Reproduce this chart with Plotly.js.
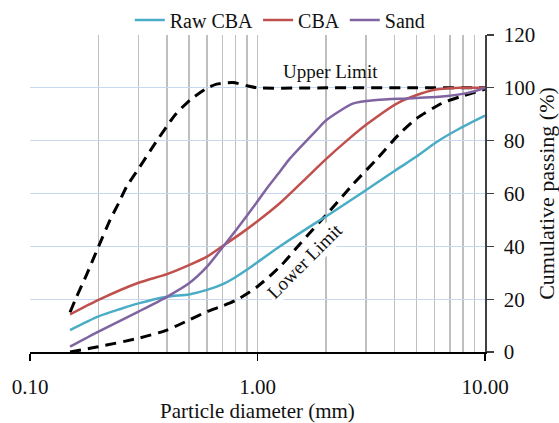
<!DOCTYPE html>
<html><head><meta charset="utf-8">
<script src="https://cdn.plot.ly/plotly-3.0.1.min.js"></script>
<style>html,body{margin:0;padding:0;background:#fff}#chart{width:559px;height:423px}</style>
</head><body><div id="chart"></div>
<script>
// Particle diameter (mm) and cumulative passing (%)
const rawCbaSize = [0.15, 0.2, 0.25, 0.3, 0.4, 0.5, 0.6, 0.7, 0.8, 0.9, 1.0, 1.256, 1.76, 2.0, 2.85, 4.0, 5.0, 6.13, 7.77, 10];
const rawCbaPass = [8.3, 13.5, 16.3, 18.4, 20.9, 21.8, 23.5, 25.6, 28.3, 31.2, 34, 40, 48.3, 51.3, 60, 68.5, 74, 79.5, 84.7, 89.5];

const cbaSize = [0.15, 0.2, 0.3, 0.4, 0.5, 0.6, 0.7, 0.85, 1.0, 1.26, 1.6, 2.0, 2.47, 3.0, 4.23, 5.93, 7.8, 10];
const cbaPass = [14.2, 19.7, 26.2, 29.5, 32.9, 36.1, 40, 45, 49.5, 56.5, 65, 73, 80, 86, 94.7, 99.2, 100, 100];

const sandSize = [0.15, 0.2, 0.3, 0.4, 0.5, 0.6, 0.7, 0.81, 0.99, 1.1, 1.26, 1.39, 1.82, 2.01, 2.64, 3.34, 4.52, 6.3, 8.3, 10];
const sandPass = [2, 7.7, 15.3, 20.9, 26, 32.3, 39.5, 46.5, 56.5, 62, 68.5, 73.3, 84, 87.8, 94.1, 95.4, 96, 96.6, 98, 100];

const upperSize = [0.15, 0.158, 0.177, 0.2, 0.225, 0.245, 0.266, 0.304, 0.343, 0.434, 0.505, 0.598, 0.661, 0.78, 0.9, 1.0, 2, 5, 10];
const upperPass = [15, 19.7, 29.1, 39.9, 50, 56.3, 62.6, 70.1, 77.1, 89.7, 95.4, 99.8, 101.4, 102, 100.8, 100, 100, 100, 100];

const lowerSize = [0.15, 0.2, 0.3, 0.4, 0.5, 0.6, 0.7, 0.81, 0.99, 1.256, 1.54, 2.08, 2.63, 3.3, 4.23, 5.0, 6.45, 7.77, 10];
const lowerPass = [0, 2, 5.2, 8.3, 12.1, 15.3, 17.4, 19.7, 24.5, 32.3, 41, 53.5, 63.5, 72.5, 82.8, 88.4, 94.1, 96.6, 99.5];

const seriesNames = ['Raw CBA', 'CBA', 'Sand'];
const xTickVals = [0.1, 1, 10];
const xTickText = ['0.10', '1.00', '10.00'];
const xMinorVals = [0.2,0.3,0.4,0.5,0.6,0.7,0.8,0.9,2,3,4,5,6,7,8,9];
const limitLabels = ['Upper Limit', 'Lower Limit'];

const FONT = 'Liberation Serif, Times New Roman, serif';

const traces = [
  {x: upperSize, y: upperPass, mode: 'lines', showlegend: false, hoverinfo: 'skip',
   line: {color: '#000', width: 3, dash: '11px,7px', shape: 'spline', smoothing: 0.6}},
  {x: lowerSize, y: lowerPass, mode: 'lines', showlegend: false, hoverinfo: 'skip',
   line: {color: '#000', width: 3, dash: '11px,7px', shape: 'spline', smoothing: 0.6}},
  {x: rawCbaSize, y: rawCbaPass, name: seriesNames[0], mode: 'lines',
   line: {color: '#4BACC6', width: 2.5, shape: 'spline', smoothing: 0.7}},
  {x: cbaSize, y: cbaPass, name: seriesNames[1], mode: 'lines',
   line: {color: '#C0504D', width: 2.5, shape: 'spline', smoothing: 0.7}},
  {x: sandSize, y: sandPass, name: seriesNames[2], mode: 'lines',
   line: {color: '#8064A2', width: 2.5, shape: 'spline', smoothing: 0.7}}
];

const layout = {
  width: 559, height: 423,
  margin: {l: 30, r: 74, t: 35, b: 71, autoexpand: false},
  paper_bgcolor: '#fff', plot_bgcolor: '#fff',
  font: {family: FONT, size: 21, color: '#111'},
  showlegend: true,
  legend: {orientation: 'h', x: 0.55, xanchor: 'center', y: 1.047, yanchor: 'middle',
           font: {family: FONT, size: 20, color: '#111'}, bgcolor: 'rgba(0,0,0,0)',
           itemwidth: 30, tracegroupgap: 0},
  xaxis: {
    type: 'log', range: [-1, 1], autorange: false,
    tickmode: 'array', tickvals: xTickVals, ticktext: xTickText,
    ticks: 'outside', ticklen: 7, tickcolor: '#000', tickwidth: 1.3,
    showline: true, linecolor: '#000', linewidth: 1.5,
    showgrid: true, gridcolor: '#bfbfbf', gridwidth: 1.5,
    minor: {tickmode: 'array', tickvals: xMinorVals, showgrid: true, gridcolor: '#bfbfbf', gridwidth: 1.5, ticks: ''},
    zeroline: false,
    ticklabelstandoff: 8,
    title: {text: 'Particle diameter (mm)', font: {family: FONT, size: 21}, standoff: 4},
    tickfont: {family: FONT, size: 21}
  },
  yaxis: {
    side: 'right', range: [0, 120], autorange: false, dtick: 20, tick0: 0,
    ticks: 'outside', ticklen: 7, tickcolor: '#404040', tickwidth: 1.3,
    showline: true, linecolor: '#404040', linewidth: 1.5,
    showgrid: true, gridcolor: '#c6d9f1', gridwidth: 1.3,
    zeroline: false,
    ticklabelstandoff: 6,
    title: {text: 'Cumulative passing (%)', font: {family: FONT, size: 22}, standoff: 4},
    tickfont: {family: FONT, size: 21}
  },
  annotations: [
    {xref: 'x', yref: 'y', x: 0.3187, y: 106, text: limitLabels[0], showarrow: false,
     font: {family: FONT, size: 19, color: '#111'}},
    {xref: 'x', yref: 'y', x: 0.2044, y: 34.4, text: limitLabels[1], showarrow: false, textangle: -45,
     bgcolor: '#fff', font: {family: FONT, size: 19, color: '#111'}}
  ]
};

Plotly.newPlot('chart', traces, layout, {staticPlot: true, displayModeBar: false});
</script>
</body></html>
